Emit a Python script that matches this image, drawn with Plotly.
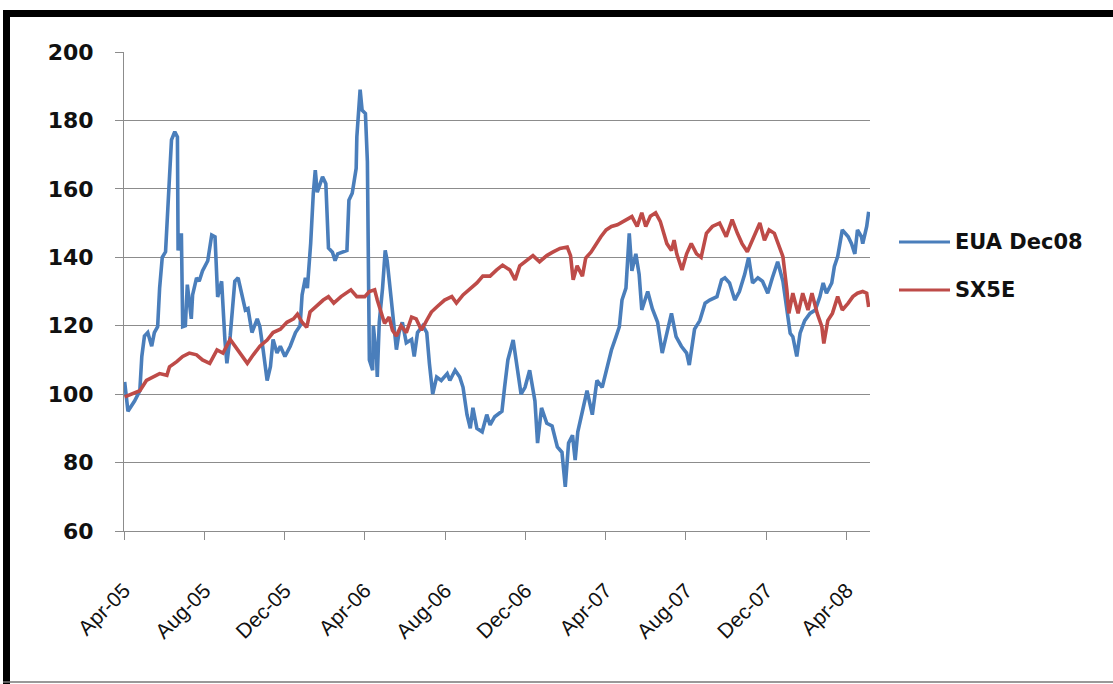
import plotly.graph_objects as go

# ---------------- data ----------------
eua_dates = [
    "2005-04-02", "2005-04-07", "2005-04-17", "2005-04-25", "2005-04-28", "2005-05-02", "2005-05-07",
    "2005-05-13", "2005-05-17", "2005-05-22", "2005-05-25", "2005-05-29", "2005-06-03", "2005-06-06",
    "2005-06-09", "2005-06-12", "2005-06-17", "2005-06-21", "2005-06-22", "2005-06-27", "2005-06-29",
    "2005-07-03", "2005-07-06", "2005-07-12", "2005-07-14", "2005-07-20", "2005-07-24", "2005-07-29",
    "2005-08-06", "2005-08-12", "2005-08-17", "2005-08-21", "2005-08-27", "2005-09-01", "2005-09-04",
    "2005-09-09", "2005-09-16", "2005-09-21", "2005-09-27", "2005-10-02", "2005-10-06", "2005-10-12",
    "2005-10-20", "2005-10-24", "2005-10-29", "2005-11-04", "2005-11-09", "2005-11-13", "2005-11-19",
    "2005-11-24", "2005-12-01", "2005-12-09", "2005-12-17", "2005-12-24", "2005-12-27", "2006-01-01",
    "2006-01-04", "2006-01-09", "2006-01-13", "2006-01-16", "2006-01-19", "2006-01-22", "2006-01-27",
    "2006-02-01", "2006-02-04", "2006-02-05", "2006-02-11", "2006-02-15", "2006-02-19", "2006-02-26",
    "2006-03-05", "2006-03-08", "2006-03-13", "2006-03-19", "2006-03-20", "2006-03-25", "2006-03-28",
    "2006-04-02", "2006-04-05", "2006-04-07", "2006-04-08", "2006-04-13", "2006-04-14", "2006-04-19",
    "2006-04-20", "2006-04-23", "2006-04-28", "2006-05-02", "2006-05-05", "2006-05-11", "2006-05-16",
    "2006-05-19", "2006-05-23", "2006-05-28", "2006-06-03", "2006-06-11", "2006-06-15", "2006-06-20",
    "2006-06-28", "2006-07-04", "2006-07-08", "2006-07-13", "2006-07-19", "2006-07-26", "2006-08-04",
    "2006-08-08", "2006-08-16", "2006-08-23", "2006-08-28", "2006-09-03", "2006-09-08", "2006-09-12",
    "2006-09-18", "2006-09-26", "2006-10-03", "2006-10-08", "2006-10-15", "2006-10-26", "2006-10-30",
    "2006-11-04", "2006-11-12", "2006-11-18", "2006-11-24", "2006-11-30", "2006-12-07", "2006-12-15",
    "2006-12-19", "2006-12-25", "2007-01-02", "2007-01-10", "2007-01-18", "2007-01-25", "2007-01-30",
    "2007-02-04", "2007-02-10", "2007-02-14", "2007-02-18", "2007-02-25", "2007-03-04", "2007-03-12",
    "2007-03-19", "2007-03-27", "2007-04-02", "2007-04-10", "2007-04-17", "2007-04-22", "2007-04-26",
    "2007-05-02", "2007-05-07", "2007-05-11", "2007-05-17", "2007-05-22", "2007-05-26", "2007-06-04",
    "2007-06-11", "2007-06-19", "2007-06-26", "2007-07-04", "2007-07-10", "2007-07-17", "2007-07-25",
    "2007-08-02", "2007-08-06", "2007-08-14", "2007-08-22", "2007-08-30", "2007-09-06", "2007-09-17",
    "2007-09-24", "2007-09-29", "2007-10-06", "2007-10-14", "2007-10-21", "2007-10-29", "2007-11-04",
    "2007-11-10", "2007-11-18", "2007-11-25", "2007-12-03", "2007-12-10", "2007-12-18", "2007-12-26",
    "2008-01-01", "2008-01-06", "2008-01-10", "2008-01-16", "2008-01-21", "2008-01-28", "2008-02-05",
    "2008-02-13", "2008-02-20", "2008-02-25", "2008-03-01", "2008-03-09", "2008-03-13", "2008-03-18",
    "2008-03-25", "2008-04-03", "2008-04-08", "2008-04-13", "2008-04-17", "2008-04-23", "2008-04-25",
    "2008-05-01", "2008-05-04",
]
eua_values = [
    103.6, 95, 98, 101, 111, 117, 118,
    114, 118, 119.7, 131, 140, 141.6, 151,
    163.5, 174.3, 176.7, 175.2, 142, 147, 119.7,
    120, 132, 122, 129, 134, 133, 136,
    139, 146.5, 146, 128.4, 133, 115.8, 109,
    117, 133, 134, 129, 124.6, 125, 118,
    122, 119.7, 112.9, 104, 108, 116, 112,
    114, 111, 114, 118, 120, 129, 134,
    131, 144, 158.7, 165.5, 159, 160.5, 163.5,
    161.5, 146.5, 142.7, 141.5, 139, 141, 141.5,
    142, 156.7, 158.7, 166, 175.2, 189, 183,
    182, 168, 129, 110, 107, 120, 110,
    105, 121, 131, 142, 139, 128, 120,
    113, 118, 121, 115, 116, 111, 118,
    120, 118, 109, 100, 105, 104, 106,
    104, 107, 105, 102, 94, 90, 96,
    90, 89, 94, 91, 93.4, 95, 102,
    110, 115.8, 108, 100, 102, 107, 98,
    85.7, 96, 91.5, 90.7, 84.6, 83, 72.9,
    85.7, 88, 80.7, 89, 95, 101, 94,
    104, 102, 107, 112.9, 116.8, 119.7, 127.5,
    131, 147, 136, 141, 135, 124.6, 130,
    125, 121, 112, 118.7, 123.6, 116.8, 114,
    112, 108.5, 119, 121.5, 126.6, 127.5, 128.5,
    133.4, 134, 132.5, 127.5, 130, 135, 140,
    132.5, 134, 133, 129.5, 134, 138.7, 133,
    125.5, 117.8, 116.8, 111, 117.8, 121.5, 123.6,
    124.6, 128.5, 132.5, 129.5, 132.5, 137.3, 140.2,
    148, 146, 144, 141, 148, 146, 144,
    149, 153.3,
]

sx5e_dates = [
    "2005-04-02", "2005-04-14", "2005-04-25", "2005-05-05", "2005-05-14", "2005-05-25", "2005-06-05",
    "2005-06-09", "2005-06-20", "2005-06-29", "2005-07-09", "2005-07-20", "2005-07-29", "2005-08-09",
    "2005-08-20", "2005-08-29", "2005-09-09", "2005-09-16", "2005-09-27", "2005-10-05", "2005-10-14",
    "2005-10-24", "2005-11-04", "2005-11-13", "2005-11-24", "2005-12-04", "2005-12-14", "2005-12-20",
    "2005-12-27", "2006-01-03", "2006-01-08", "2006-01-19", "2006-01-28", "2006-02-05", "2006-02-13",
    "2006-02-24", "2006-03-04", "2006-03-11", "2006-03-20", "2006-04-01", "2006-04-08", "2006-04-16",
    "2006-04-20", "2006-04-26", "2006-05-01", "2006-05-08", "2006-05-13", "2006-05-19", "2006-05-26",
    "2006-06-03", "2006-06-11", "2006-06-18", "2006-06-26", "2006-07-04", "2006-07-11", "2006-07-20",
    "2006-07-31", "2006-08-11", "2006-08-18", "2006-08-28", "2006-09-08", "2006-09-18", "2006-09-27",
    "2006-10-08", "2006-10-18", "2006-10-27", "2006-11-07", "2006-11-15", "2006-11-22", "2006-12-03",
    "2006-12-12", "2006-12-22", "2007-01-02", "2007-01-11", "2007-01-22", "2007-02-02", "2007-02-07",
    "2007-02-11", "2007-02-17", "2007-02-25", "2007-03-02", "2007-03-10", "2007-03-18", "2007-03-25",
    "2007-04-02", "2007-04-10", "2007-04-19", "2007-04-29", "2007-05-11", "2007-05-19", "2007-05-26",
    "2007-06-01", "2007-06-08", "2007-06-16", "2007-06-23", "2007-07-03", "2007-07-10", "2007-07-14",
    "2007-07-18", "2007-07-26", "2007-08-02", "2007-08-09", "2007-08-17", "2007-08-24", "2007-09-01",
    "2007-09-10", "2007-09-21", "2007-10-01", "2007-10-10", "2007-10-18", "2007-10-25", "2007-11-02",
    "2007-11-10", "2007-11-21", "2007-11-28", "2007-12-05", "2007-12-13", "2007-12-21", "2007-12-26",
    "2008-01-01", "2008-01-04", "2008-01-10", "2008-01-18", "2008-01-25", "2008-02-02", "2008-02-08",
    "2008-02-16", "2008-02-23", "2008-02-26", "2008-03-03", "2008-03-10", "2008-03-18", "2008-03-25",
    "2008-04-03", "2008-04-10", "2008-04-17", "2008-04-25", "2008-05-01", "2008-05-04",
]
sx5e_values = [
    99.2, 100, 101, 104, 105, 106, 105.5,
    108, 109.5, 111, 112, 111.5, 110, 109,
    112.9, 112, 116, 114, 111, 109, 111.5,
    114, 115.8, 118, 119, 121, 122, 123.4,
    121, 119.5, 124, 126, 127.5, 128.5, 126.6,
    128.5, 129.5, 130.5, 128.5, 128.5, 130, 130.5,
    127.5, 124, 120.7, 122.5, 118.7, 117, 120,
    118, 122.5, 122, 118.7, 121.6, 124, 125.6,
    127.5, 128.5, 126.6, 129, 131, 132.5, 134.5,
    134.5, 136.3, 137.7, 136.3, 133.4, 137.5, 139,
    140.5, 138.7, 140.5, 141.5, 142.6, 143, 140.5,
    133.4, 137.5, 134.5, 139.8, 141.5, 144, 146,
    148, 149, 149.5, 150.5, 151.9, 149, 153,
    149, 152, 153, 150.5, 144, 142, 145,
    141, 136.3, 141, 144, 141, 140, 147,
    149, 150, 146, 151, 147, 144, 141.6,
    145, 150, 145, 148, 147, 143, 140.2,
    130.4, 123.6, 129.5, 123.6, 129.5, 124.6, 129.5,
    123.6, 119.7, 114.8, 121.5, 123.6, 128.5, 124.6,
    126.6, 128.5, 129.5, 130, 129.5, 125.5,
]

series_names = ["EUA Dec08", "SX5E"]
series_colors = ["#4A7EBB", "#BE4B48"]

tick_dates = ["2005-04-01", "2005-08-01", "2005-12-01", "2006-04-01", "2006-08-01",
              "2006-12-01", "2007-04-01", "2007-08-01", "2007-12-01", "2008-04-01"]
tick_labels = ["Apr-05", "Aug-05", "Dec-05", "Apr-06", "Aug-06",
               "Dec-06", "Apr-07", "Aug-07", "Dec-07", "Apr-08"]
x_range = ["2005-04-01", "2008-05-06"]
y_ticks = [60, 80, 100, 120, 140, 160, 180, 200]

# ---------------- layout geometry ----------------
W, H = 1113, 684
L, R, T, B = 124, 243, 52, 153
PW, PH = W - L - R, H - T - B


def px(x):
    return (x - L) / PW


def py(y):
    return 1 - (y - T) / PH


fig = go.Figure()
fig.add_trace(go.Scatter(x=eua_dates, y=eua_values, mode="lines", name=series_names[0],
                         line=dict(color=series_colors[0], width=3.6), showlegend=False))
fig.add_trace(go.Scatter(x=sx5e_dates, y=sx5e_values, mode="lines", name=series_names[1],
                         line=dict(color=series_colors[1], width=3.6), showlegend=False))

grid = "#8C8C8C"
fig.update_layout(
    width=W, height=H,
    margin=dict(l=L, r=R, t=T, b=B, autoexpand=False),
    paper_bgcolor="white", plot_bgcolor="white",
    xaxis=dict(
        type="date", range=x_range,
        tickmode="array", tickvals=tick_dates, ticktext=tick_labels,
        tickangle=-45, ticks="outside", ticklen=8, tickcolor=grid, tickwidth=1,
        showgrid=False, showline=True, linecolor=grid, linewidth=1,
        zeroline=False, ticklabelstandoff=30,
        tickfont=dict(family="Liberation Sans, Arial, sans-serif", size=21, color="#111111"),
    ),
    yaxis=dict(
        range=[60, 200], tickmode="array", tickvals=y_ticks,
        ticks="outside", ticklen=8, tickcolor=grid, tickwidth=1,
        showgrid=True, gridcolor=grid, gridwidth=1,
        showline=True, linecolor=grid, linewidth=1, zeroline=False,
        ticklabelstandoff=17,
        tickfont=dict(family="DejaVu Sans", size=22, color="#111111", weight="bold"),
    ),
)

# legend drawn as paper shapes/annotations
legend_y = [242, 290]
for name, color, ly in zip(series_names, series_colors, legend_y):
    fig.add_shape(type="line", xref="paper", yref="paper",
                  x0=px(899), x1=px(950), y0=py(ly), y1=py(ly),
                  line=dict(color=color, width=3))
    fig.add_annotation(xref="paper", yref="paper", x=px(953), y=py(ly),
                       xanchor="left", yanchor="middle", showarrow=False,
                       text=name,
                       font=dict(family="DejaVu Sans", size=21, color="#111111", weight="bold"))

# black frame (top and left) and thin bottom rule
fig.add_shape(type="rect", xref="paper", yref="paper", x0=px(3), x1=px(W + 5),
              y0=py(17), y1=py(10), fillcolor="black", line=dict(width=0), layer="above")
fig.add_shape(type="rect", xref="paper", yref="paper", x0=px(3), x1=px(10),
              y0=py(H + 5), y1=py(10), fillcolor="black", line=dict(width=0), layer="above")
fig.add_shape(type="line", xref="paper", yref="paper", x0=px(3), x1=px(W + 5),
              y0=py(682), y1=py(682), line=dict(color="#777777", width=1.5))

fig.write_html("out.html",
               config={"displayModeBar": False},
               post_script="document.body.style.margin='0';document.body.style.overflow='hidden';")
